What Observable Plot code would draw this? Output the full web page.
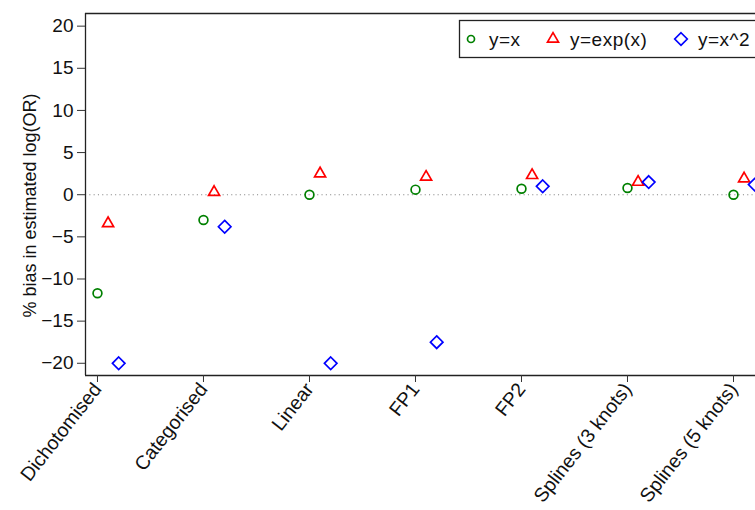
<!DOCTYPE html>
<html>
<head>
<meta charset="utf-8">
<script src="https://cdn.jsdelivr.net/npm/d3@7"></script>
<script src="https://cdn.jsdelivr.net/npm/@observablehq/plot@0.6"></script>
<style>
  html, body { margin: 0; padding: 0; background: #fff; overflow: hidden; }
  #chart { width: 755px; height: 510px; }
</style>
</head>
<body>
<div id="chart"></div>
<script>
const categories = ["Dichotomised", "Categorised", "Linear", "FP1", "FP2", "Splines (3 knots)", "Splines (5 knots)"];
const seriesNames = ["y=x", "y=exp(x)", "y=x^2"];
const biasYx  = [-11.7, -3.0, 0.0, 0.6, 0.7, 0.8, 0.0];
const biasExp = [-3.4, 0.3, 2.5, 2.1, 2.3, 1.5, 1.9];
const biasSq  = [-20.0, -3.8, -20.0, -17.5, 1.0, 1.5, 1.2];
const yTicks = [-20, -15, -10, -5, 0, 5, 10, 15, 20];
const yLabel = "% bias in estimated log(OR)";

const colors = ["#008000", "#ff0000", "#0000ff"];
const xDomain = [0.887, 7.2075];
const yDomain = [-21.45, 21.5];
const FONT = "'Liberation Sans', Arial, Helvetica, sans-serif";

const diamond = {
  draw(ctx, size) {
    const h = Math.sqrt(size / 2);
    ctx.moveTo(0, -h); ctx.lineTo(h, 0); ctx.lineTo(0, h); ctx.lineTo(-h, 0); ctx.closePath();
  }
};

const rows = (vals) => categories.map((c, i) => ({pos: i + 1, cat: c, v: vals[i]}));
const fmt = d => d < 0 ? "\u2212" + (-d) : String(d);

const plot = Plot.plot({
  width: 755,
  height: 510,
  marginTop: 13,
  marginBottom: 135,
  marginLeft: 85,
  marginRight: 0,
  style: {fontFamily: FONT, fontSize: "18px", background: "#fff", color: "#111", overflow: "visible"},
  x: {domain: xDomain},
  y: {domain: yDomain},
  marks: [
    Plot.ruleY([0], {stroke: "#888", strokeWidth: 1.1, strokeDasharray: "1.1,3.2"}),
    Plot.ruleX([xDomain[0]], {stroke: "#222", strokeWidth: 1.3}),
    Plot.ruleY(yDomain, {stroke: "#222", strokeWidth: 1.3}),
    Plot.axisY({ticks: yTicks, tickFormat: fmt, tickSize: 8, tickPadding: 4, stroke: "#333", label: null, fontSize: 19}),
    Plot.axisX({ticks: d3.range(1, categories.length + 1), tickFormat: i => categories[i - 1],
      tickRotate: -52, tickSize: 7, tickPadding: 3, stroke: "#333", label: null, fontSize: 19.5}),
    Plot.text([yLabel], {frameAnchor: "left", rotate: -90, dx: -50, dy: 11,
      lineAnchor: "bottom", textAnchor: "middle", fill: "#111", fontSize: 18}),
    Plot.dot(rows(biasYx), {x: "pos", y: "v", symbol: "circle", r: 4.4, stroke: colors[0], strokeWidth: 1.7, fill: "none"}),
    Plot.dot(rows(biasExp), {x: "pos", y: "v", symbol: "triangle", r: 4.1, dx: 10.6, stroke: colors[1], strokeWidth: 1.7, fill: "none"}),
    Plot.dot(rows(biasSq), {x: "pos", y: "v", symbol: diamond, r: 5.0, dx: 21.2, stroke: colors[2], strokeWidth: 1.7, fill: "none"})
  ]
});

document.getElementById("chart").appendChild(plot);

// Legend (inside the plot area, top right)
const svg = d3.select(plot);
const lg = svg.append("g").attr("font-family", FONT).attr("font-size", "19px").attr("text-anchor", "start");
lg.append("rect").attr("x", 459.5).attr("y", 20.5).attr("width", 310).attr("height", 37)
  .attr("fill", "#fff").attr("stroke", "#222").attr("stroke-width", 1.3);
const symbols = [d3.symbolCircle, d3.symbolTriangle, diamond];
const symSizes = [Math.PI * 3.5 * 3.5, Math.PI * 4.1 * 4.1, Math.PI * 5 * 5];
const symX = [471, 553, 681];
const txtX = [489, 570, 698];
seriesNames.forEach((name, i) => {
  lg.append("path").attr("d", d3.symbol(symbols[i], symSizes[i])())
    .attr("transform", `translate(${symX[i]},39)`)
    .attr("fill", "none").attr("stroke", colors[i]).attr("stroke-width", 1.7);
  lg.append("text").attr("x", txtX[i]).attr("y", 45.5).attr("fill", "#111")
    .attr("text-anchor", "start").style("letter-spacing", "0.5px").text(name);
});
</script>
</body>
</html>
